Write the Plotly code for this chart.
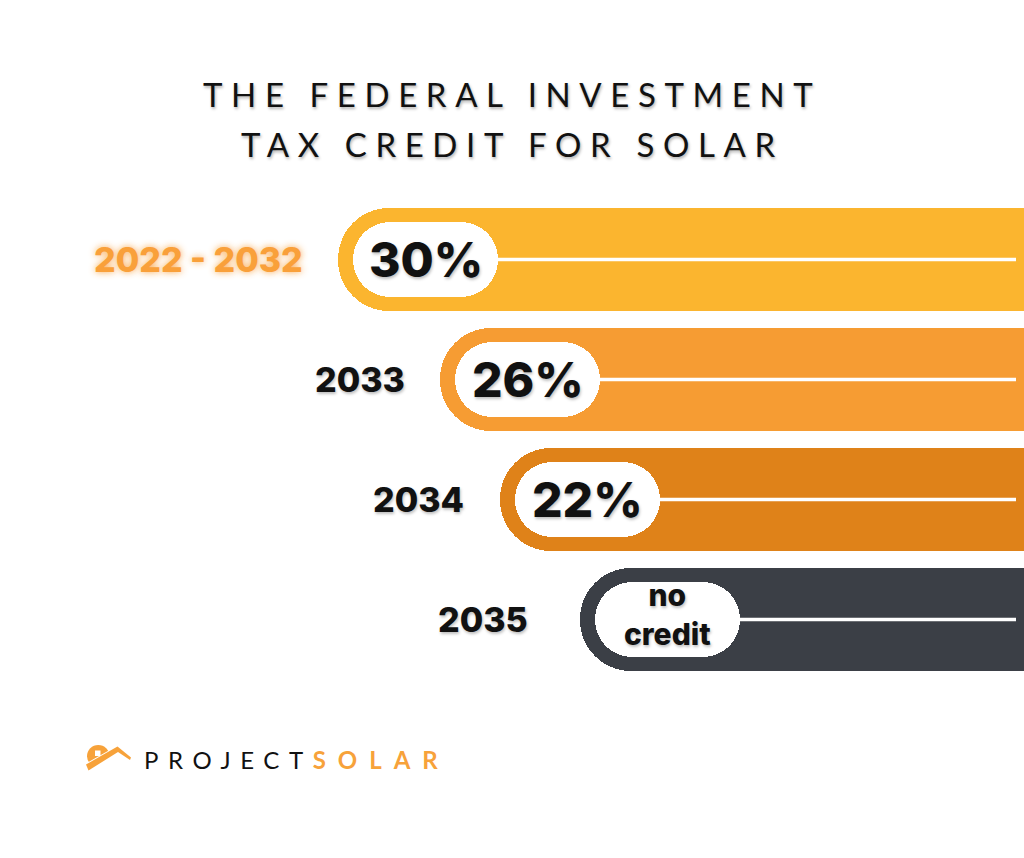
import plotly.graph_objects as go

# ---------------- data ----------------
periods = ["2022 - 2032", "2033", "2034", "2035"]
credit_pct = [30, 26, 22, 0]
credit_labels = ["30%", "26%", "22%", "no<br>credit"]
bar_colors = ["#FBB52F", "#F69C33", "#DF8219", "#3B3F46"]
period_colors = ["#F9A03A", "#111111", "#111111", "#111111"]

title_lines = ["THE FEDERAL INVESTMENT", "TAX CREDIT FOR SOLAR"]

# ---------------- layout constants ----------------
W, H = 1024, 858
BAR_START = [338, 440, 500, 580]      # left (rounded) end of each band, x units
LABEL_RIGHT = [305, 407, 466, 530]    # right edge of period labels
PILL_OFFSET = 15
PILL_WIDTH = 145
BAR_FAR = 1200                         # bands run off the right edge
LINE_END = 1016
ROW_PX0, ROW_PX = 259.5, 120.0         # pixel centre of first row, row spacing

n = len(periods)
rows = list(range(n))
y_top = -ROW_PX0 / ROW_PX
y_bot = (H - ROW_PX0) / ROW_PX

fig = go.Figure()

# coloured bands (rounded end on the left, far end off-canvas)
fig.add_trace(go.Bar(
    y=rows, base=BAR_START, x=[BAR_FAR - s for s in BAR_START],
    orientation="h", width=103 / ROW_PX,
    marker=dict(color=bar_colors, line=dict(width=0), cornerradius="50%"),
    hoverinfo="skip", showlegend=False,
))

pill_left = [s + PILL_OFFSET for s in BAR_START]
pill_right = [p + PILL_WIDTH for p in pill_left]
pill_mid = [(a + b) / 2 for a, b in zip(pill_left, pill_right)]

# white pills
fig.add_trace(go.Bar(
    y=rows, base=pill_left, x=[PILL_WIDTH] * n,
    orientation="h", width=75 / ROW_PX,
    marker=dict(color="white", line=dict(width=0), cornerradius="50%"),
    hoverinfo="skip", showlegend=False,
))

# thin white lines inside bands
lx, ly = [], []
for i in rows:
    lx += [pill_right[i] - 2, LINE_END, None]
    ly += [i, i, None]
fig.add_trace(go.Scatter(
    x=lx, y=ly, mode="lines", line=dict(color="white", width=3.5),
    hoverinfo="skip", showlegend=False,
))

# labels inside pills
for i in rows:
    two_line = "<br>" in credit_labels[i]
    fig.add_annotation(
        x=pill_mid[i], y=i, xref="x", yref="y",
        text=credit_labels[i], showarrow=False,
        xanchor="center", yanchor="middle",
        font=dict(family="Inter", size=30 if two_line else 48, weight=800, color="#111111",
                  shadow="1px 2px 3px rgba(0,0,0,0.25)"),
        yshift=5 if two_line else 0,
    )

# period labels
for i in rows:
    glow = "0px 0px 7px rgba(249,160,58,0.9)" if i == 0 else "1px 2px 3px rgba(0,0,0,0.25)"
    fig.add_annotation(
        x=LABEL_RIGHT[i], y=i, xref="x", yref="y",
        text=periods[i], showarrow=False,
        xanchor="right", yanchor="middle",
        font=dict(family="Inter", size=34, weight=800, color=period_colors[i], shadow=glow),
    )

# title
for k, line in enumerate(title_lines):
    fig.add_annotation(
        x=0.5, y=1 - (94 + 50 * k) / H, xref="paper", yref="paper",
        text=f'<span style="letter-spacing:8.6px">{line}</span>', showarrow=False,
        xanchor="center", yanchor="middle",
        font=dict(family="Lato", size=33, color="#111111",
                  shadow="1px 2px 3px rgba(0,0,0,0.3)"),
    )

# logo
def px(x):
    return x / W

def py(y):
    return 1 - y / H

ORANGE = "#F7A23A"
shapes = [
    dict(type="circle", xref="paper", yref="paper",
         x0=px(87), x1=px(109.5), y0=py(767.5), y1=py(745),
         fillcolor=ORANGE, line=dict(width=0)),
    dict(type="rect", xref="paper", yref="paper",
         x0=px(95), x1=px(100.5), y0=py(756), y1=py(750.5),
         fillcolor="white", line=dict(width=0)),
    dict(type="path", xref="paper", yref="paper",
         path=(f"M {px(80)},{py(766.8)} L {px(118)},{py(745.3)} L {px(134)},{py(757)} "
               f"L {px(134)},{py(780)} L {px(80)},{py(780)} Z"),
         fillcolor="white", line=dict(width=0)),
    dict(type="path", xref="paper", yref="paper",
         path=(f"M {px(86)},{py(764.5)} L {px(117.5)},{py(746.5)} L {px(131)},{py(757.5)} "
               f"L {px(130)},{py(760)} L {px(118)},{py(752)} L {px(88.5)},{py(770.5)} Z"),
         fillcolor=ORANGE, line=dict(width=0)),
]

fig.add_annotation(
    x=px(142), y=py(759), xref="paper", yref="paper",
    text=('<span style="letter-spacing:9.6px">PROJECT</span>'
          f'<span style="letter-spacing:12px;font-weight:bold;fill:{ORANGE}">SOLAR</span>'),
    showarrow=False, xanchor="left", yanchor="middle",
    font=dict(family="Lato", size=24, color="#111111"),
)

fig.update_layout(
    width=W, height=H,
    margin=dict(l=0, r=0, t=0, b=0),
    paper_bgcolor="white", plot_bgcolor="white",
    barmode="overlay", bargap=0,
    shapes=shapes,
    xaxis=dict(range=[0, W], visible=False, fixedrange=True),
    yaxis=dict(range=[y_bot, y_top], visible=False, fixedrange=True),
    showlegend=False,
)

fig.write_html("out.html", config={"displayModeBar": False},
               post_script="document.body.style.margin='0px';")
